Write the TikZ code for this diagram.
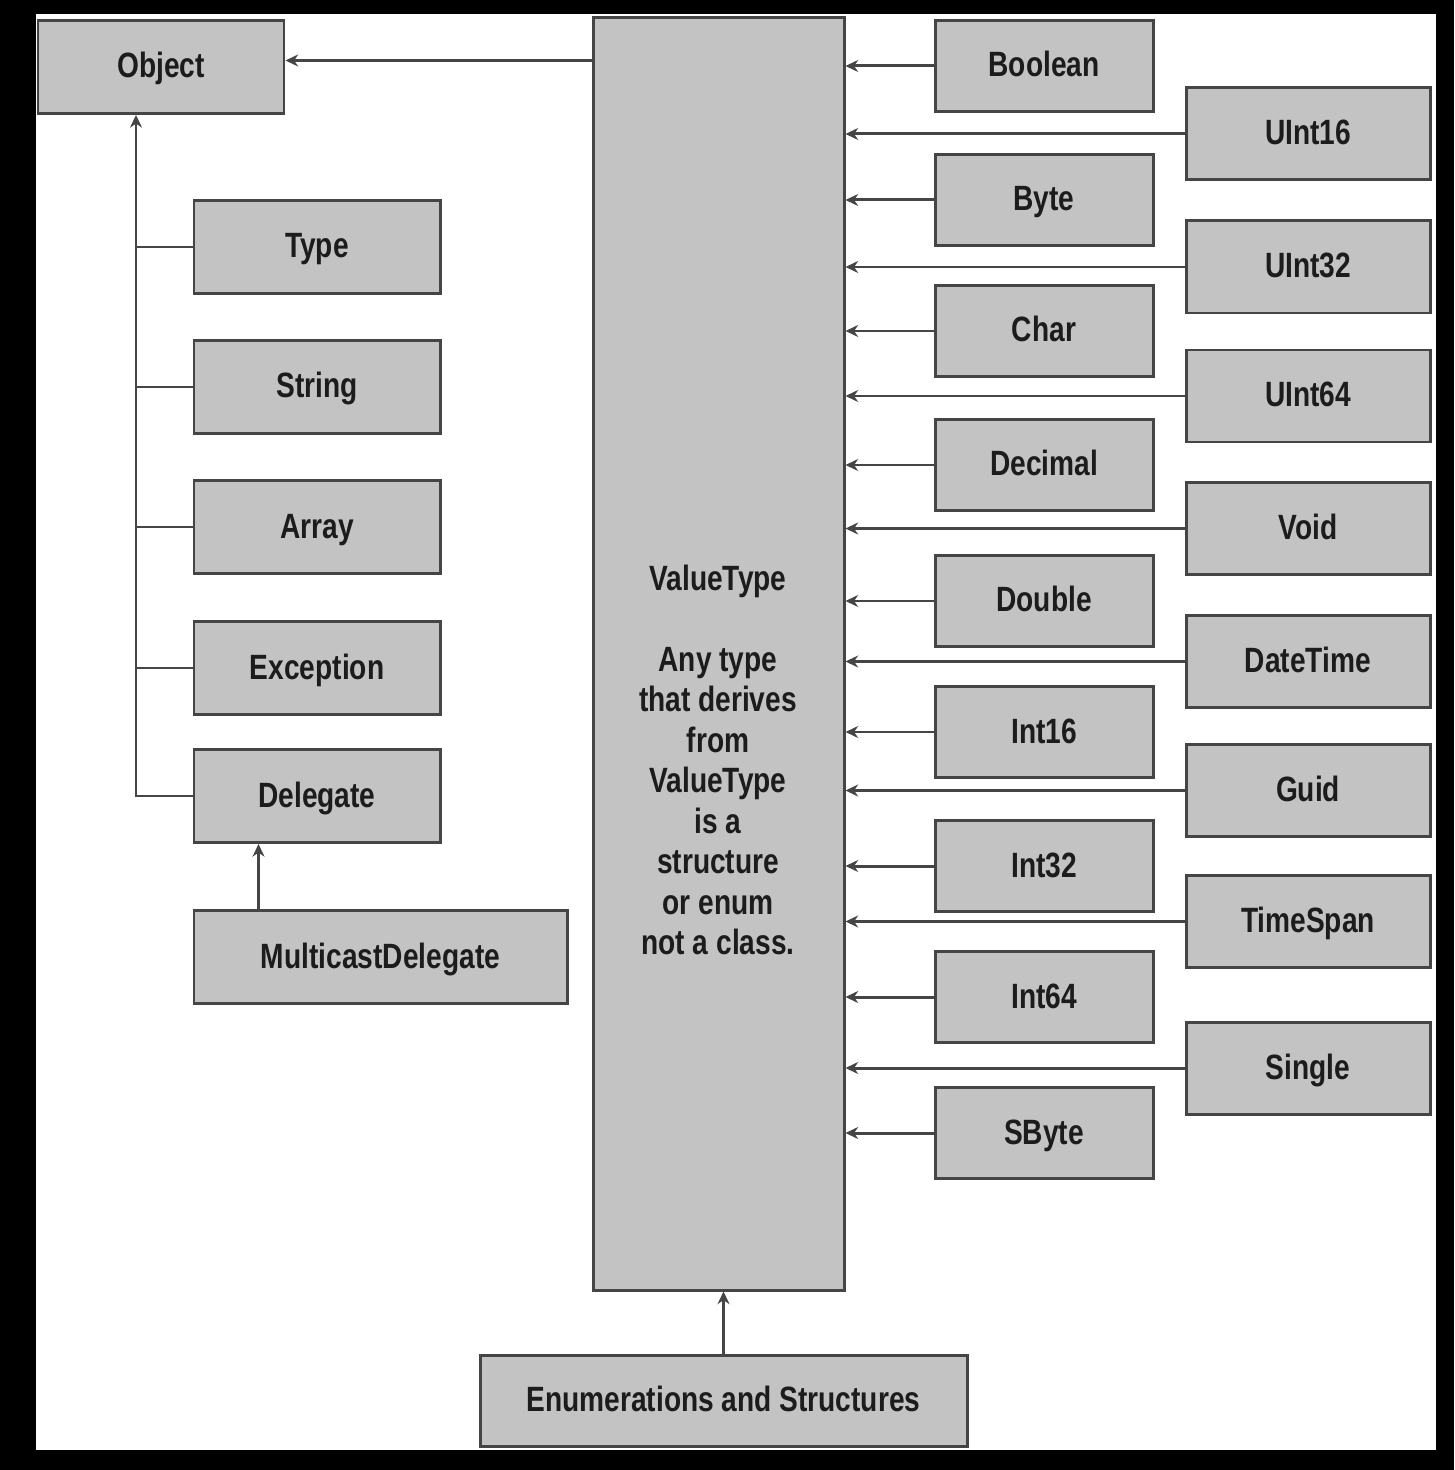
\documentclass[tikz,border=0pt]{standalone}
\usepackage{fontspec}
\setmainfont{Liberation Sans}[FakeStretch=0.8]
\usetikzlibrary{arrows.meta}
\definecolor{boxgray}{HTML}{C3C3C3}
\definecolor{edgegray}{HTML}{454545}
\definecolor{inkgray}{HTML}{1C1C1C}

\begin{document}
\begin{tikzpicture}[>={Stealth[length=3.6pt,width=3.4pt]}, line width=0.85pt]
	% frame
	\fill[black] (0,0) rectangle (14.54,-14.70);
	\fill[white] (0.36,-0.14) rectangle (14.36,-14.50);
	\tikzstyle{every node} = [draw=edgegray, fill=boxgray, inner sep=0pt, text=inkgray, font=\fontsize{10pt}{11.5pt}\selectfont\bfseries]
	\tikzstyle{every path} = [draw=edgegray]
	\tikzstyle{box} = [text height=0.26cm, text depth=0.04cm]
	\tikzstyle{wide} = [box, minimum width=2.46cm, minimum height=0.93cm]
	\tikzstyle{inner} = [box, minimum width=2.18cm, minimum height=0.91cm]
	\tikzstyle{outer} = [box, minimum width=2.44cm, minimum height=0.92cm]
	% left tree
	\node[wide] (Object) at (1.61, -0.67) {Object};
	\node[wide] (Type) at (3.17, -2.47) {Type};
	\node[wide] (String) at (3.17, -3.87) {String};
	\node[wide] (Array) at (3.17, -5.27) {Array};
	\node[wide] (Exception) at (3.17, -6.68) {Exception};
	\node[wide] (Delegate) at (3.17, -7.96) {Delegate};
	\node[box, minimum width=3.73cm, minimum height=0.93cm] (Multicast) at (3.805, -9.57) {MulticastDelegate};
	% value types
	\node[minimum width=2.51cm, minimum height=12.72cm] (ValueType) at (7.185, -6.54) {};
	\node[draw=none, fill=none, align=center] (VTtext) at (7.18, -7.60) {ValueType\\[11.5pt]Any type\\that derives\\from\\ValueType\\is a\\structure\\or enum\\not a class.};
	\node[box, minimum width=4.87cm, minimum height=0.91cm] (Enum) at (7.235, -14.005) {Enumerations and Structures};
	\node[inner] (Boolean) at (10.44, -0.66) {Boolean};
	\node[inner] (Byte) at (10.44, -2.00) {Byte};
	\node[inner] (Char) at (10.44, -3.31) {Char};
	\node[inner] (Decimal) at (10.44, -4.65) {Decimal};
	\node[inner] (Double) at (10.44, -6.01) {Double};
	\node[inner] (Int16) at (10.44, -7.32) {Int16};
	\node[inner] (Int32) at (10.44, -8.66) {Int32};
	\node[inner] (Int64) at (10.44, -9.97) {Int64};
	\node[inner] (SByte) at (10.44, -11.33) {SByte};
	\node[outer] (UInt16) at (13.08, -1.34) {UInt16};
	\node[outer] (UInt32) at (13.08, -2.67) {UInt32};
	\node[outer] (UInt64) at (13.08, -3.96) {UInt64};
	\node[outer] (Void) at (13.08, -5.285) {Void};
	\node[outer] (DateTime) at (13.08, -6.615) {DateTime};
	\node[outer] (Guid) at (13.08, -7.905) {Guid};
	\node[outer] (TimeSpan) at (13.08, -9.215) {TimeSpan};
	\node[outer] (Single) at (13.08, -10.68) {Single};
	% connectors
	\draw [->] (Delegate.west) -| ([xshift=-0.25cm]Object.south);
	\draw (Type.west) -- ++(-0.58, 0);
	\draw (String.west) -- ++(-0.58, 0);
	\draw (Array.west) -- ++(-0.58, 0);
	\draw (Exception.west) -- ++(-0.58, 0);
	\draw [->] ([xshift=0.66cm]Multicast.north west) -- ([xshift=0.66cm]Multicast.north west |- Delegate.south);
	\draw [->] ([yshift=-0.44cm]ValueType.north west) -- ([yshift=-0.44cm]ValueType.north west -| Object.east);
	\draw [->] (Enum.north) -- (Enum.north |- ValueType.south);
	\foreach \t in {Boolean, Byte, Char, Decimal, Double, Int16, Int32, Int64, SByte, UInt16, UInt32, UInt64, Void, DateTime, Guid, TimeSpan, Single}
		\draw [->] (\t.west) -- (\t.west -| ValueType.east);
\end{tikzpicture}
\end{document}
